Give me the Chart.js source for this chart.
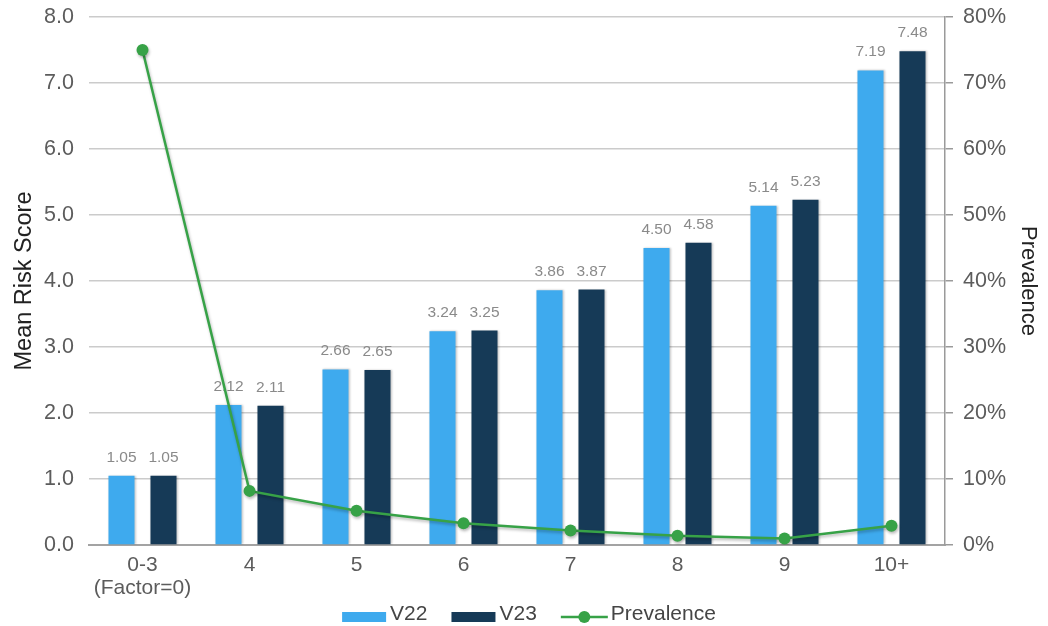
<!DOCTYPE html>
<html>
<head>
<meta charset="utf-8">
<title>Mean Risk Score and Prevalence</title>
<script src="https://cdn.jsdelivr.net/npm/chart.js@4/dist/chart.umd.min.js"></script>
<style>
  html, body { margin: 0; padding: 0; background: #ffffff; }
  #wrap { width: 1048px; height: 626px; }
</style>
</head>
<body>
<div id="wrap"><canvas id="chart" width="1048" height="626"></canvas></div>
<script>
// Risk-factor count groups
const categories = [['0-3', '(Factor=0)'], '4', '5', '6', '7', '8', '9', '10+'];
// Mean risk score per group, model versions V22 and V23
const v22Scores = [1.05, 2.12, 2.66, 3.24, 3.86, 4.50, 5.14, 7.19];
const v23Scores = [1.05, 2.11, 2.65, 3.25, 3.87, 4.58, 5.23, 7.48];
// Share of members in each group (percent)
const prevalencePct = [75.0, 8.2, 5.2, 3.3, 2.2, 1.4, 1.0, 2.9];

const FONT = '"Liberation Sans", Arial, Helvetica, sans-serif';
const COLOR_V22 = '#3eaaee';
const COLOR_V23 = '#163a57';
const COLOR_PREV = '#37a247';
const TICK_COLOR = '#5c5c5c';

// Soft drop shadow under marks, and value labels above every bar
const markDecor = {
  id: 'markDecor',
  beforeDatasetDraw(chart, args) {
    const ds = chart.data.datasets[args.index];
    const ctx = chart.ctx;
    ctx.save();
    if (ds.type === 'line') {
      ctx.shadowColor = 'rgba(0,0,0,0.28)';
      ctx.shadowBlur = 3;
      ctx.shadowOffsetX = 1;
      ctx.shadowOffsetY = 2;
    } else {
      ctx.shadowColor = 'rgba(0,0,0,0.22)';
      ctx.shadowBlur = 2;
      ctx.shadowOffsetX = 1;
      ctx.shadowOffsetY = 0;
    }
  },
  afterDatasetDraw(chart, args) {
    const ctx = chart.ctx;
    ctx.restore();
    const ds = chart.data.datasets[args.index];
    if (ds.type !== 'bar') return;
    ctx.save();
    ctx.font = '15.5px ' + FONT;
    ctx.fillStyle = '#8a8a8a';
    ctx.textAlign = 'center';
    ctx.textBaseline = 'alphabetic';
    args.meta.data.forEach((bar, i) => {
      ctx.fillText(ds.data[i].toFixed(2), bar.x, bar.y - 14);
    });
    ctx.restore();
  }
};

// Legend row under the category axis
const bottomLegend = {
  id: 'bottomLegend',
  afterDraw(chart) {
    const ctx = chart.ctx;
    const sets = chart.data.datasets;
    ctx.save();
    ctx.font = '21px ' + FONT;
    const swatchW = [44, 44, 47];
    const gapText = [4, 4, 3];
    const gapItem = 24;
    const widths = sets.map((d, i) => swatchW[i] + gapText[i] + ctx.measureText(d.label).width);
    const total = widths.reduce((a, b) => a + b, 0) + gapItem * (sets.length - 1);
    let x = 529 - total / 2;
    const textY = 614.5;
    const markY = 617;
    sets.forEach((d, i) => {
      if (d.type === 'bar') {
        ctx.fillStyle = d.backgroundColor;
        ctx.fillRect(x, markY - 5, swatchW[i], 10);
      } else {
        ctx.strokeStyle = d.borderColor;
        ctx.lineWidth = 2.5;
        ctx.beginPath();
        ctx.moveTo(x, markY);
        ctx.lineTo(x + swatchW[i], markY);
        ctx.stroke();
        ctx.fillStyle = d.pointBackgroundColor;
        ctx.beginPath();
        ctx.arc(x + swatchW[i] / 2, markY, 6, 0, Math.PI * 2);
        ctx.fill();
      }
      ctx.fillStyle = '#454545';
      ctx.textAlign = 'left';
      ctx.textBaseline = 'middle';
      ctx.fillText(d.label, x + swatchW[i] + gapText[i], textY);
      x += widths[i] + gapItem;
    });
    ctx.restore();
  }
};

// Fixed width for a value axis; its edge labels may overhang the plot area
function fixVertical(width) {
  return (scale) => {
    scale.width = width;
    scale.paddingTop = 0;
    scale.paddingBottom = 0;
  };
}

new Chart(document.getElementById('chart'), {
  type: 'bar',
  data: {
    labels: categories,
    datasets: [
      {
        type: 'bar',
        label: 'V22',
        data: v22Scores,
        backgroundColor: COLOR_V22,
        yAxisID: 'y',
        order: 1,
        categoryPercentage: 0.785,
        barPercentage: 0.62
      },
      {
        type: 'bar',
        label: 'V23',
        data: v23Scores,
        backgroundColor: COLOR_V23,
        yAxisID: 'y',
        order: 1,
        categoryPercentage: 0.785,
        barPercentage: 0.62
      },
      {
        type: 'line',
        label: 'Prevalence',
        data: prevalencePct,
        borderColor: COLOR_PREV,
        backgroundColor: COLOR_PREV,
        pointBackgroundColor: COLOR_PREV,
        pointBorderWidth: 0,
        pointRadius: 6,
        borderWidth: 2.5,
        tension: 0,
        fill: false,
        yAxisID: 'y1',
        order: 0
      }
    ]
  },
  options: {
    responsive: false,
    animation: false,
    events: [],
    layout: { padding: { top: 17, right: 0, bottom: 24, left: 0 } },
    plugins: {
      legend: { display: false },
      tooltip: { enabled: false }
    },
    scales: {
      x: {
        grid: { display: false, drawTicks: false },
        border: { display: true, color: '#a3a3a3', width: 2 },
        ticks: {
          font: { family: FONT, size: 21, lineHeight: 1.1 },
          color: TICK_COLOR,
          padding: 9,
          maxRotation: 0,
          autoSkip: false
        },
        afterFit(scale) { scale.height = 57; }
      },
      y: {
        position: 'left',
        min: 0,
        max: 8,
        grid: { color: '#cbcbcb', lineWidth: 1.5, drawTicks: false },
        border: { display: false },
        ticks: {
          stepSize: 1,
          font: { family: FONT, size: 21.5 },
          color: TICK_COLOR,
          padding: 15,
          callback: (v) => Number(v).toFixed(1)
        },
        title: {
          display: true,
          text: 'Mean Risk Score',
          font: { family: FONT, size: 23.5 },
          color: '#222222',
          padding: { top: 10, bottom: 0 }
        },
        afterFit: fixVertical(89)
      },
      y1: {
        position: 'right',
        min: 0,
        max: 80,
        grid: { drawOnChartArea: false, drawTicks: true, tickLength: 8, color: '#9a9a9a', lineWidth: 1.5 },
        border: { display: true, color: '#9a9a9a', width: 1.5 },
        ticks: {
          stepSize: 10,
          font: { family: FONT, size: 21.5 },
          color: TICK_COLOR,
          padding: 10,
          callback: (v) => v + '%'
        },
        title: {
          display: true,
          text: 'Prevalence',
          font: { family: FONT, size: 22 },
          color: '#222222',
          padding: { top: 7, bottom: 0 }
        },
        afterFit: fixVertical(103)
      }
    }
  },
  plugins: [markDecor, bottomLegend]
});
</script>
</body>
</html>
